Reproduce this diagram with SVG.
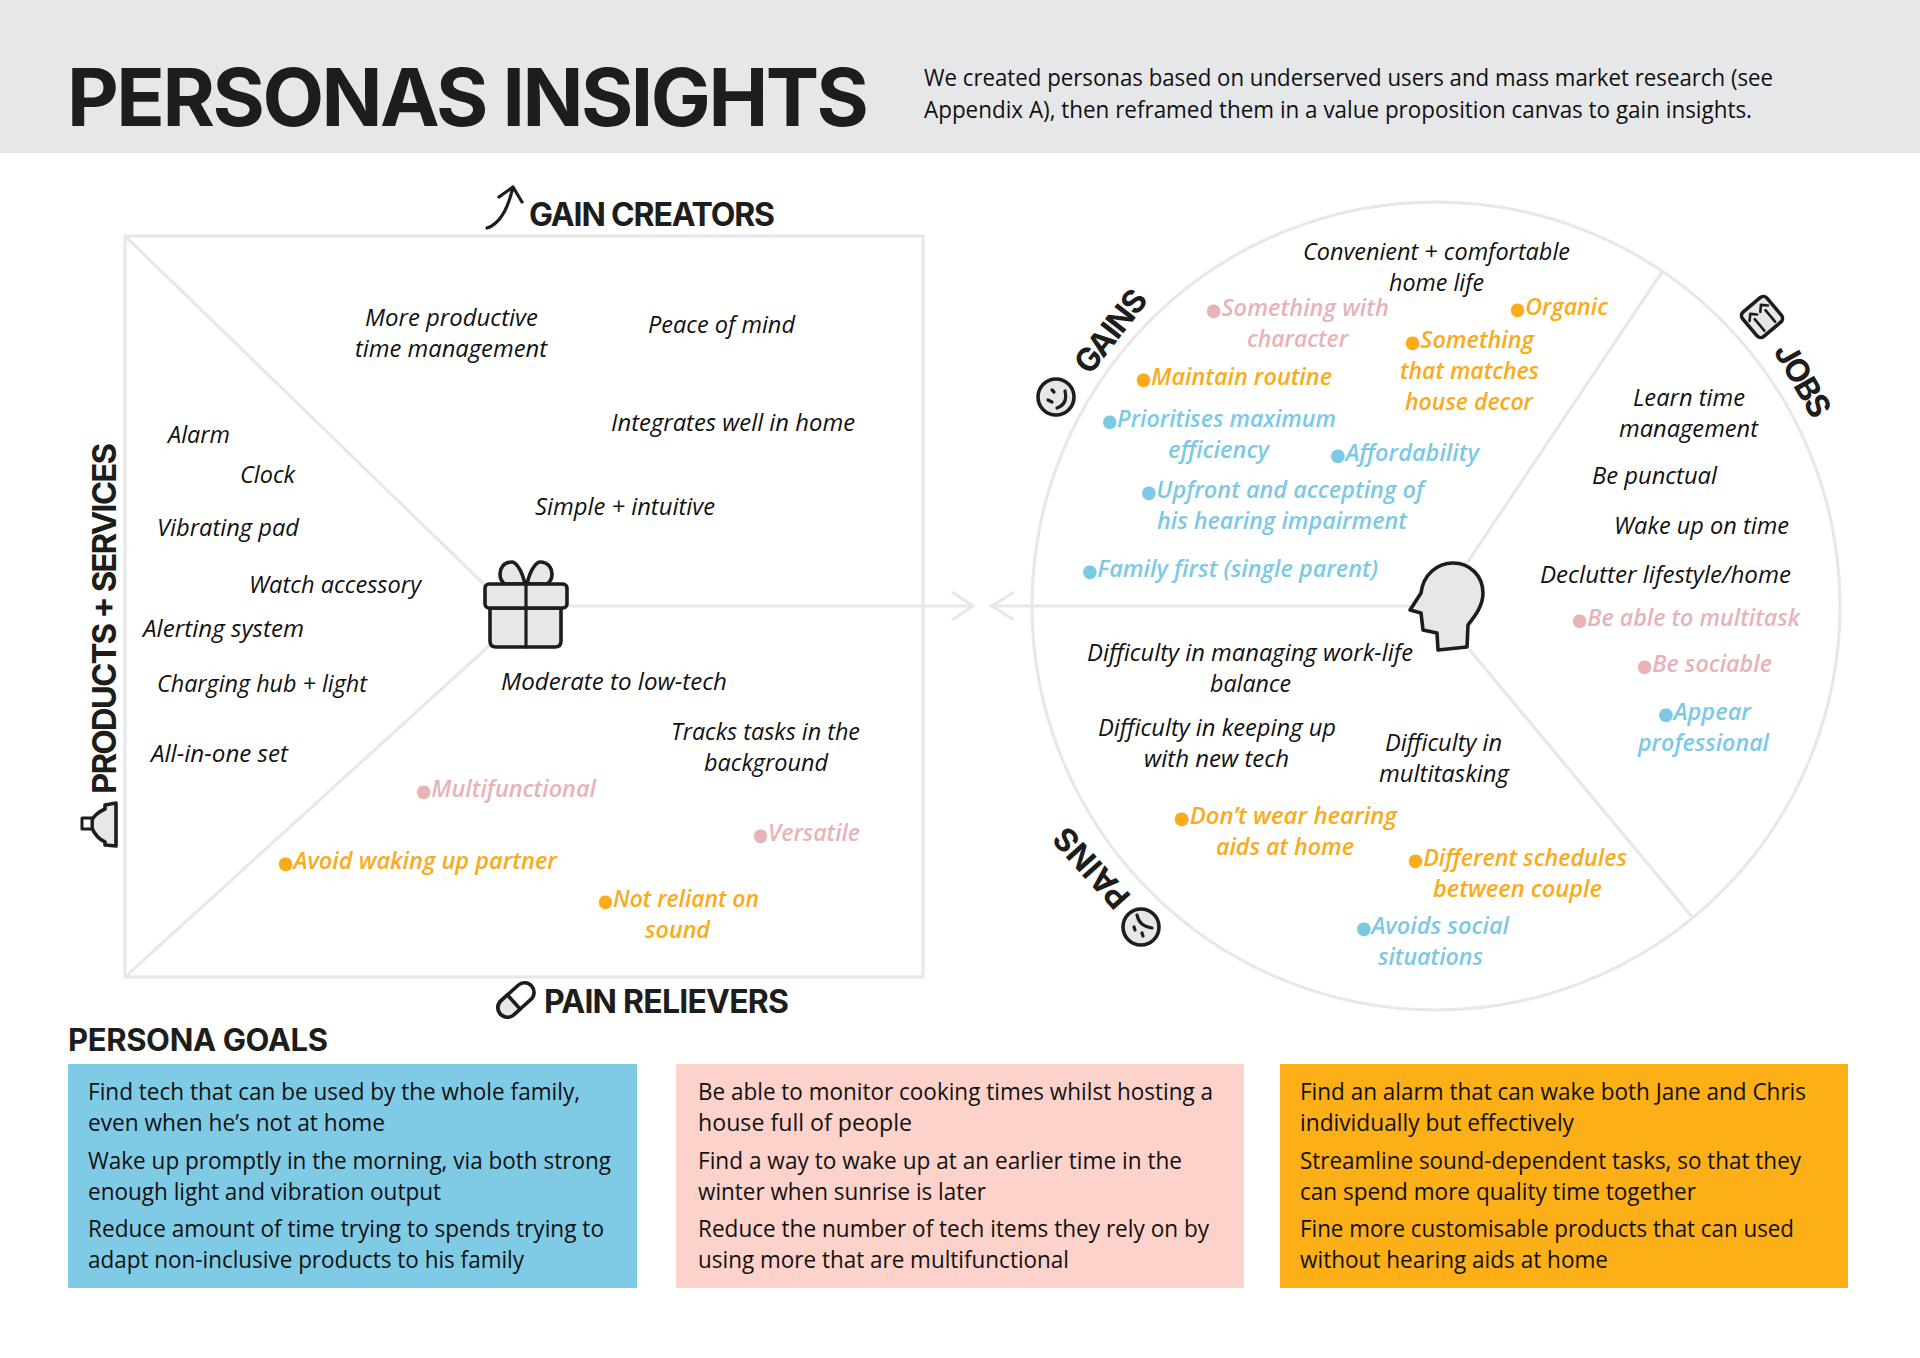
<svg xmlns="http://www.w3.org/2000/svg" width="1920" height="1358" viewBox="0 0 1920 1358">
<style>
text{font-family:"Open Sans","Liberation Sans",sans-serif;fill:#111;font-size:24px}
.h{font-family:Inter,"Liberation Sans",sans-serif;font-weight:700;fill:#1d1d1b}
.i{font-style:italic}
.b{font-style:italic;font-weight:600}
.p{fill:#e8b3b6}.o{fill:#fbaa19}.c{fill:#7bc9e4}
.d{font-family:"DejaVu Sans",sans-serif;font-style:normal;font-size:18px}
.l{fill:none;stroke:#e8e8e9;stroke-width:3.2}
.ic{fill:#e6e7e8;stroke:#1d1d1b;stroke-width:3.6;stroke-linejoin:round;stroke-linecap:round}
.n{fill:none;stroke:#1d1d1b;stroke-width:3.2;stroke-linecap:round;stroke-linejoin:round}
</style>
<g id="header">
<rect width="1920" height="153" fill="#e6e7e8"/>
<text class="h" x="67" y="126" style="font-size:80px" textLength="802" lengthAdjust="spacing">PERSONAS INSIGHTS</text>
<text x="924" y="86" textLength="849" lengthAdjust="spacingAndGlyphs">We created personas based on underserved users and mass market research (see</text>
<text x="924" y="118" textLength="828" lengthAdjust="spacingAndGlyphs">Appendix A), then reframed them in a value proposition canvas to gain insights.</text>
</g>
<g id="connectors">
<rect class="l" x="125" y="236" width="798" height="741"/>
<path class="l" d="M125 236L490 590M125 977L490 645M566 606H973M1410 606H989M952 592L973 606L952 620M1014 592L992 606L1014 620"/>
<circle class="l" cx="1436" cy="606" r="404"/>
<path class="l" d="M1467 563L1662 272M1469 649L1693 918"/>
</g>
<g id="gift-icon">
<path class="ic" d="M525 584C521 566 514 562 512 562C503 562 500 569 500 574C500 578 502 582 505 584Z"/>
<path class="ic" d="M527 584C531 566 538 562 540 562C549 562 552 569 552 574C552 578 550 582 547 584Z"/>
<path class="ic" d="M490 608H561V641Q561 647 555 647H496Q490 647 490 641Z"/>
<rect class="ic" x="485" y="584" width="82" height="24" rx="4"/>
<path class="n" d="M526 584V647"/>
</g>
<g id="head-icon">
<path class="ic" d="M1421 593C1423 575 1437 563 1453 563C1470 563 1483 576 1483 593C1483 606 1475 616 1468 625L1467 647L1438 650L1437 633L1423 630L1421 613L1410 610Z"/>
</g>
<g id="gain-creators">
<path class="n" d="M487 228Q505 222 513 187M499 197L513 187L522 202"/>
<text class="h" x="529" y="226" style="font-size:32px" textLength="246" lengthAdjust="spacing">GAIN CREATORS</text>
<text class="i" x="365" y="326" textLength="173" lengthAdjust="spacingAndGlyphs">More productive</text>
<text class="i" x="355" y="357" textLength="192" lengthAdjust="spacingAndGlyphs">time management</text>
<text class="i" x="648" y="333" textLength="147" lengthAdjust="spacingAndGlyphs">Peace of mind</text>
<text class="i" x="611" y="431" textLength="244" lengthAdjust="spacingAndGlyphs">Integrates well in home</text>
<text class="i" x="535" y="515" textLength="180" lengthAdjust="spacingAndGlyphs">Simple + intuitive</text>
</g>
<g id="products-services">
<path class="ic" d="M116 803L105 805V809C98 812 93 817 92 820V828C94 834 100 840 105 842V845L116 846Z"/>
<rect class="ic" x="82" y="818" width="10" height="11" style="fill:#fff;stroke-width:3"/>
<text class="h" transform="translate(116 794) rotate(-90)" style="font-size:33px" textLength="351" lengthAdjust="spacing">PRODUCTS + SERVICES</text>
<text class="i" x="168" y="443" textLength="62" lengthAdjust="spacingAndGlyphs">Alarm</text>
<text class="i" x="240" y="483" textLength="55" lengthAdjust="spacingAndGlyphs">Clock</text>
<text class="i" x="157" y="536" textLength="142" lengthAdjust="spacingAndGlyphs">Vibrating pad</text>
<text class="i" x="249" y="593" textLength="172" lengthAdjust="spacingAndGlyphs">Watch accessory</text>
<text class="i" x="143" y="637" textLength="161" lengthAdjust="spacingAndGlyphs">Alerting system</text>
<text class="i" x="157" y="692" textLength="210" lengthAdjust="spacingAndGlyphs">Charging hub + light</text>
<text class="i" x="151" y="762" textLength="137" lengthAdjust="spacingAndGlyphs">All-in-one set</text>
</g>
<g id="pain-relievers">
<g transform="translate(516 1000) rotate(-42)">
<rect class="ic" x="-21" y="-9.5" width="42" height="19" rx="9.5" style="fill:#fff"/>
<path class="ic" d="M-3 -9.5H-11.500A9.500 9.500 0 0 0 -11.500 9.500H-3Z"/>
</g>
<text class="h" x="544" y="1013" style="font-size:32px" textLength="245" lengthAdjust="spacing">PAIN RELIEVERS</text>
<text class="i" x="501" y="690" textLength="226" lengthAdjust="spacingAndGlyphs">Moderate to low-tech</text>
<text class="i" x="671" y="740" textLength="189" lengthAdjust="spacingAndGlyphs">Tracks tasks in the</text>
<text class="i" x="704" y="771" textLength="124" lengthAdjust="spacingAndGlyphs">background</text>
<text class="b p" x="416" y="797" textLength="180" lengthAdjust="spacingAndGlyphs"><tspan class="d">●</tspan>Multifunctional</text>
<text class="b p" x="753" y="841" textLength="107" lengthAdjust="spacingAndGlyphs"><tspan class="d">●</tspan>Versatile</text>
<text class="b o" x="278" y="869" textLength="279" lengthAdjust="spacingAndGlyphs"><tspan class="d">●</tspan>Avoid waking up partner</text>
<text class="b o" x="598" y="907" textLength="161" lengthAdjust="spacingAndGlyphs"><tspan class="d">●</tspan>Not reliant on</text>
<text class="b o" x="645" y="938" textLength="65" lengthAdjust="spacingAndGlyphs">sound</text>
</g>
<g id="gains">
<circle class="ic" cx="1056" cy="397" r="18"/>
<path class="n" d="M1057 408Q1068 404 1065 391M1048 400L1052 402M1052 390L1054 392"/>
<text class="h" transform="translate(1090 376) rotate(-52)" style="font-size:32px" textLength="96" lengthAdjust="spacing">GAINS</text>
<text class="i" x="1303" y="260" textLength="267" lengthAdjust="spacingAndGlyphs">Convenient + comfortable</text>
<text class="i" x="1389" y="291" textLength="95" lengthAdjust="spacingAndGlyphs">home life</text>
<text class="b p" x="1206" y="316" textLength="183" lengthAdjust="spacingAndGlyphs"><tspan class="d">●</tspan>Something with</text>
<text class="b p" x="1247" y="347" textLength="101" lengthAdjust="spacingAndGlyphs">character</text>
<text class="b o" x="1510" y="315" textLength="98" lengthAdjust="spacingAndGlyphs"><tspan class="d">●</tspan>Organic</text>
<text class="b o" x="1405" y="348" textLength="129" lengthAdjust="spacingAndGlyphs"><tspan class="d">●</tspan>Something</text>
<text class="b o" x="1400" y="379" textLength="139" lengthAdjust="spacingAndGlyphs">that matches</text>
<text class="b o" x="1405" y="410" textLength="128" lengthAdjust="spacingAndGlyphs">house decor</text>
<text class="b o" x="1136" y="385" textLength="196" lengthAdjust="spacingAndGlyphs"><tspan class="d">●</tspan>Maintain routine</text>
<text class="b c" x="1102" y="427" textLength="234" lengthAdjust="spacingAndGlyphs"><tspan class="d">●</tspan>Prioritises maximum</text>
<text class="b c" x="1168" y="458" textLength="101" lengthAdjust="spacingAndGlyphs">efficiency</text>
<text class="b c" x="1330" y="461" textLength="149" lengthAdjust="spacingAndGlyphs"><tspan class="d">●</tspan>Affordability</text>
<text class="b c" x="1141" y="498" textLength="283" lengthAdjust="spacingAndGlyphs"><tspan class="d">●</tspan>Upfront and accepting of</text>
<text class="b c" x="1157" y="529" textLength="250" lengthAdjust="spacingAndGlyphs">his hearing impairment</text>
<text class="b c" x="1082" y="577" textLength="296" lengthAdjust="spacingAndGlyphs"><tspan class="d">●</tspan>Family first (single parent)</text>
</g>
<g id="jobs">
<g transform="translate(1762 317) rotate(-40)">
<rect class="ic" x="-16" y="-16" width="32" height="32" rx="5"/>
<path class="n" d="M-7 12V-3M7 12V-3M-12 -5L-7 -10L-2 -5M2 -5L7 -10L12 -5" style="stroke-width:2.6"/>
</g>
<text class="h" transform="translate(1773 351) rotate(60)" style="font-size:32px" textLength="80" lengthAdjust="spacing">JOBS</text>
<text class="i" x="1633" y="406" textLength="112" lengthAdjust="spacingAndGlyphs">Learn time</text>
<text class="i" x="1619" y="437" textLength="139" lengthAdjust="spacingAndGlyphs">management</text>
<text class="i" x="1592" y="484" textLength="125" lengthAdjust="spacingAndGlyphs">Be punctual</text>
<text class="i" x="1614" y="534" textLength="175" lengthAdjust="spacingAndGlyphs">Wake up on time</text>
<text class="i" x="1540" y="583" textLength="251" lengthAdjust="spacingAndGlyphs">Declutter lifestyle/home</text>
<text class="b p" x="1572" y="626" textLength="228" lengthAdjust="spacingAndGlyphs"><tspan class="d">●</tspan>Be able to multitask</text>
<text class="b p" x="1637" y="672" textLength="135" lengthAdjust="spacingAndGlyphs"><tspan class="d">●</tspan>Be sociable</text>
<text class="b c" x="1658" y="720" textLength="93" lengthAdjust="spacingAndGlyphs"><tspan class="d">●</tspan>Appear</text>
<text class="b c" x="1638" y="751" textLength="131" lengthAdjust="spacingAndGlyphs">professional</text>
</g>
<g id="pains">
<circle class="ic" cx="1141" cy="927" r="18"/>
<path class="n" d="M1137 915Q1139 926 1152 928M1134 927L1135 930M1142 933L1143 936"/>
<text class="h" transform="translate(1132 896) rotate(-132)" style="font-size:32px" textLength="96" lengthAdjust="spacing">PAINS</text>
<text class="i" x="1087" y="661" textLength="326" lengthAdjust="spacingAndGlyphs">Difficulty in managing work-life</text>
<text class="i" x="1210" y="692" textLength="81" lengthAdjust="spacingAndGlyphs">balance</text>
<text class="i" x="1098" y="736" textLength="238" lengthAdjust="spacingAndGlyphs">Difficulty in keeping up</text>
<text class="i" x="1144" y="767" textLength="145" lengthAdjust="spacingAndGlyphs">with new tech</text>
<text class="i" x="1385" y="751" textLength="117" lengthAdjust="spacingAndGlyphs">Difficulty in</text>
<text class="i" x="1379" y="782" textLength="130" lengthAdjust="spacingAndGlyphs">multitasking</text>
<text class="b o" x="1174" y="824" textLength="223" lengthAdjust="spacingAndGlyphs"><tspan class="d">●</tspan>Don’t wear hearing</text>
<text class="b o" x="1216" y="855" textLength="138" lengthAdjust="spacingAndGlyphs">aids at home</text>
<text class="b o" x="1408" y="866" textLength="219" lengthAdjust="spacingAndGlyphs"><tspan class="d">●</tspan>Different schedules</text>
<text class="b o" x="1433" y="897" textLength="169" lengthAdjust="spacingAndGlyphs">between couple</text>
<text class="b c" x="1356" y="934" textLength="153" lengthAdjust="spacingAndGlyphs"><tspan class="d">●</tspan>Avoids social</text>
<text class="b c" x="1378" y="965" textLength="105" lengthAdjust="spacingAndGlyphs">situations</text>
</g>
<g id="persona-goals">
<text class="h" x="68" y="1051" style="font-size:31px" textLength="260" lengthAdjust="spacing">PERSONA GOALS</text>
</g>
<g id="goal-blue">
<rect x="68" y="1064" width="569" height="224" fill="#7fcbe6"/>
<text x="88" y="1100" textLength="492" lengthAdjust="spacingAndGlyphs">Find tech that can be used by the whole family,</text>
<text x="88" y="1131" textLength="297" lengthAdjust="spacingAndGlyphs">even when he’s not at home</text>
<text x="88" y="1169" textLength="523" lengthAdjust="spacingAndGlyphs">Wake up promptly in the morning, via both strong</text>
<text x="88" y="1200" textLength="353" lengthAdjust="spacingAndGlyphs">enough light and vibration output</text>
<text x="88" y="1237" textLength="516" lengthAdjust="spacingAndGlyphs">Reduce amount of time trying to spends trying to</text>
<text x="88" y="1268" textLength="436" lengthAdjust="spacingAndGlyphs">adapt non-inclusive products to his family</text>
</g>
<g id="goal-pink">
<rect x="676" y="1064" width="568" height="224" fill="#fdd2ca"/>
<text x="698" y="1100" textLength="515" lengthAdjust="spacingAndGlyphs">Be able to monitor cooking times whilst hosting a</text>
<text x="698" y="1131" textLength="214" lengthAdjust="spacingAndGlyphs">house full of people</text>
<text x="698" y="1169" textLength="484" lengthAdjust="spacingAndGlyphs">Find a way to wake up at an earlier time in the</text>
<text x="698" y="1200" textLength="288" lengthAdjust="spacingAndGlyphs">winter when sunrise is later</text>
<text x="698" y="1237" textLength="511" lengthAdjust="spacingAndGlyphs">Reduce the number of tech items they rely on by</text>
<text x="698" y="1268" textLength="371" lengthAdjust="spacingAndGlyphs">using more that are multifunctional</text>
</g>
<g id="goal-orange">
<rect x="1280" y="1064" width="568" height="224" fill="#fcaf17"/>
<text x="1300" y="1100" textLength="506" lengthAdjust="spacingAndGlyphs">Find an alarm that can wake both Jane and Chris</text>
<text x="1300" y="1131" textLength="274" lengthAdjust="spacingAndGlyphs">individually but effectively</text>
<text x="1300" y="1169" textLength="501" lengthAdjust="spacingAndGlyphs">Streamline sound-dependent tasks, so that they</text>
<text x="1300" y="1200" textLength="396" lengthAdjust="spacingAndGlyphs">can spend more quality time together</text>
<text x="1300" y="1237" textLength="494" lengthAdjust="spacingAndGlyphs">Fine more customisable products that can used</text>
<text x="1300" y="1268" textLength="308" lengthAdjust="spacingAndGlyphs">without hearing aids at home</text>
</g>
</svg>
